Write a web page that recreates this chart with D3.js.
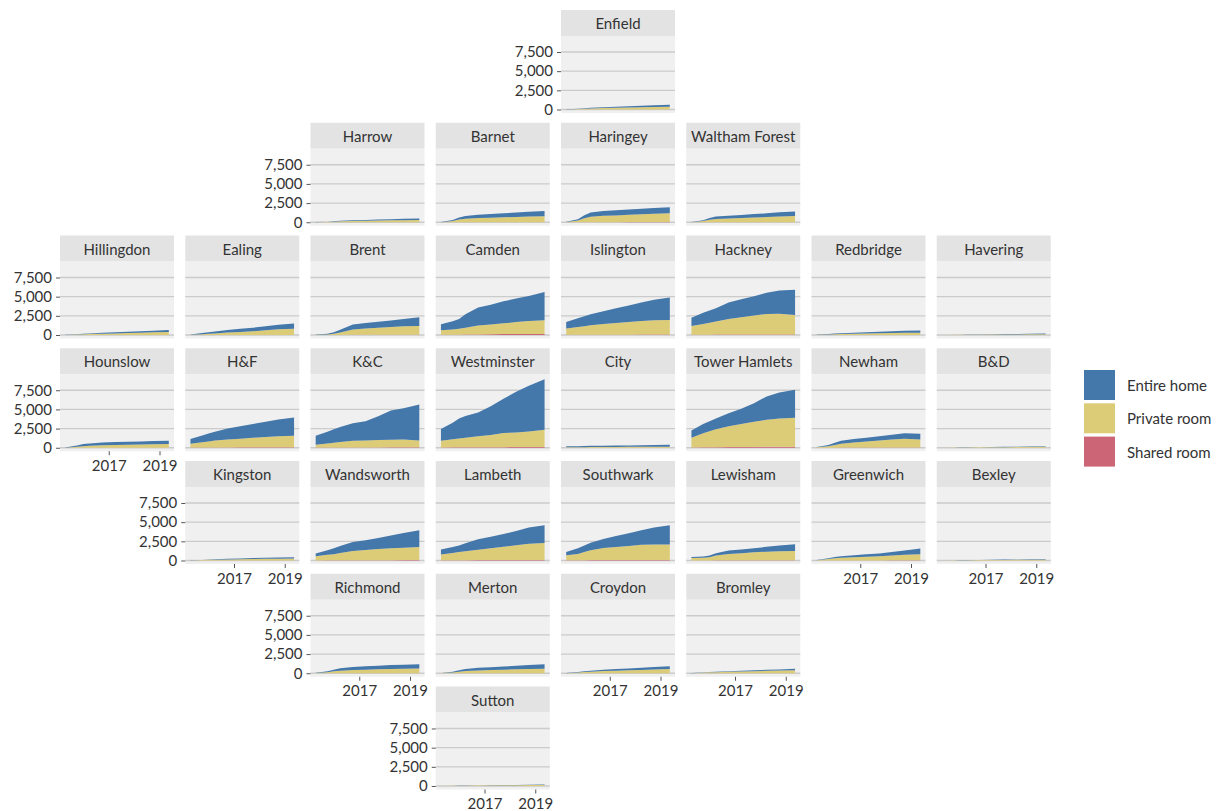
<!DOCTYPE html>
<html><head><meta charset="utf-8">
<script src="https://cdn.jsdelivr.net/npm/d3@7"></script>
<style>
body{margin:0;background:#fff}
text{font-family:Lato,'Open Sans',sans-serif}
</style>
</head><body>
<svg id="chart" width="1227" height="811"></svg>
<script>
// ---------- data ----------
const dates = ["2015-04-15","2015-10-01","2016-01-01","2016-04-01","2016-10-01","2017-04-01","2017-10-01","2018-04-01","2018-10-01","2019-05-15"];

const boroughs = ["Enfield",
  "Harrow","Barnet","Haringey","Waltham Forest",
  "Hillingdon","Ealing","Brent","Camden","Islington","Hackney","Redbridge","Havering",
  "Hounslow","H&F","K&C","Westminster","City","Tower Hamlets","Newham","B&D",
  "Kingston","Wandsworth","Lambeth","Southwark","Lewisham","Greenwich","Bexley",
  "Richmond","Merton","Croydon","Bromley",
  "Sutton"];
const gridCol = [4, 2,3,4,5, 0,1,2,3,4,5,6,7, 0,1,2,3,4,5,6,7, 1,2,3,4,5,6,7, 2,3,4,5, 3];
const gridRow = [0, 1,1,1,1, 2,2,2,2,2,2,2,2, 3,3,3,3,3,3,3,3, 4,4,4,4,4,4,4, 5,5,5,5, 6];

const entireHome = [
  [10,40,70,90,120,140,160,180,210,240],          // Enfield
  [10,30,50,70,90,110,130,150,170,200],           // Harrow
  [15,130,260,350,420,470,520,570,620,670],       // Barnet
  [25,180,400,550,630,670,700,730,760,790],       // Haringey
  [15,100,230,320,360,400,440,480,540,600],       // Waltham Forest
  [10,40,60,80,110,140,160,180,210,250],          // Hillingdon
  [40,140,210,260,340,400,460,510,570,690],       // Ealing
  [30,90,180,360,650,710,770,850,930,1170],       // Brent
  [790,1080,1300,1750,2350,2570,2880,3070,3270,3680], // Camden
  [860,1150,1300,1430,1650,1920,2160,2430,2680,2920], // Islington
  [1080,1450,1600,1750,2150,2320,2500,2750,3020,3300], // Hackney
  [30,60,90,110,140,180,210,230,260,300],         // Redbridge
  [5,10,15,25,35,45,55,65,70,80],                 // Havering
  [15,170,270,310,360,380,390,400,420,440],       // Hounslow
  [610,880,1020,1170,1440,1620,1800,2000,2200,2380], // H&F
  [1170,1540,1750,1950,2300,2500,3100,3810,4090,4690], // K&C
  [1530,2150,2580,2830,3100,3750,4470,5300,5980,6610], // Westminster
  [120,130,145,160,170,180,190,200,220,240],      // City
  [950,1200,1300,1400,1700,2000,2400,3050,3400,3680], // Tower Hamlets
  [50,170,290,380,450,490,550,620,700,740],       // Newham
  [5,10,20,20,30,40,45,55,70,80],                 // B&D
  [10,30,50,70,90,110,125,140,155,170],           // Kingston
  [350,610,770,920,1170,1270,1450,1660,1950,2170], // Wandsworth
  [640,770,850,1030,1380,1500,1650,1850,2120,2310], // Lambeth
  [430,740,850,950,1180,1450,1670,1900,2200,2520], // Southwark
  [130,160,220,300,440,490,520,630,750,870],      // Lewisham
  [30,120,170,210,270,320,370,460,540,740],       // Greenwich
  [5,10,20,20,25,30,40,45,50,60],                 // Bexley
  [30,120,210,320,400,450,480,510,530,550],       // Richmond
  [20,100,180,270,350,380,420,460,510,570],       // Merton
  [15,60,100,130,180,210,240,270,310,350],        // Croydon
  [10,30,50,60,80,100,110,130,150,180],           // Bromley
  [5,10,15,20,25,30,35,40,45,60]                  // Sutton
];

const privateRoom = [
  [10,60,100,140,180,220,260,300,330,360],
  [10,50,80,110,150,180,210,240,270,300],
  [15,170,340,450,530,580,630,680,730,780],
  [25,220,500,700,820,880,950,1020,1090,1160],
  [15,150,320,430,490,550,610,670,740,800],
  [10,60,90,120,170,205,255,295,345,395],
  [40,105,155,200,300,390,480,605,745,805],
  [20,75,160,325,710,820,930,1025,1125,1135],
  [580,680,760,900,1180,1270,1400,1560,1700,1790],
  [820,1020,1120,1240,1410,1540,1650,1770,1870,1910],
  [1130,1410,1560,1700,2040,2270,2480,2680,2710,2530],
  [20,60,90,120,155,185,215,245,275,295],
  [5,20,30,35,45,55,65,75,90,100],
  [15,125,200,240,310,350,380,410,440,470],
  [500,690,800,890,1020,1130,1250,1350,1440,1500],
  [370,530,620,720,860,910,960,990,1010,910],
  [860,1050,1160,1260,1430,1570,1850,1910,2030,2240],
  [60,70,75,80,90,100,110,120,130,140],
  [1260,1840,2080,2320,2700,2990,3290,3530,3680,3790],
  [50,170,350,500,670,800,910,1040,1140,1040],
  [5,20,30,40,50,60,75,85,100,120],
  [10,50,80,100,140,160,185,210,235,260],
  [550,720,810,950,1200,1340,1460,1550,1600,1720],
  [760,950,1070,1180,1350,1550,1740,1940,2120,2220],
  [670,830,1060,1300,1560,1680,1810,1970,2020,2000],
  [330,350,420,630,840,940,1050,1120,1170,1220],
  [30,175,270,340,420,470,540,620,740,800],
  [5,20,30,40,55,70,80,95,110,130],
  [20,130,240,330,400,450,500,540,570,600],
  [20,100,200,280,350,400,450,500,540,580],
  [15,90,150,200,270,320,380,430,490,550],
  [10,70,110,140,190,230,270,310,350,400],
  [5,20,35,40,55,70,85,100,115,140]
];

const sharedRoom = [
  [0,0,5,5,5,5,5,5,5,5],
  [0,0,0,5,5,5,5,5,5,5],
  [0,5,10,10,15,15,15,15,15,15],
  [0,5,10,15,15,15,20,20,20,20],
  [0,5,5,10,10,10,10,10,10,10],
  [0,0,0,0,0,5,5,5,5,5],
  [0,5,5,10,10,10,10,15,15,15],
  [0,5,10,15,20,20,20,25,25,25],
  [30,40,40,50,70,110,120,120,130,130],
  [20,30,30,30,40,40,40,50,50,50],
  [30,40,40,50,60,60,70,70,70,70],
  [0,0,0,0,5,5,5,5,5,5],
  [0,0,0,0,0,0,0,0,0,0],
  [0,5,10,10,10,10,10,10,10,10],
  [20,30,30,40,40,50,50,50,60,60],
  [20,30,30,30,40,40,40,50,50,50],
  [40,50,60,60,70,80,80,90,90,100],
  [5,5,5,5,5,5,5,5,5,5],
  [40,60,70,80,100,110,110,120,120,110],
  [0,10,10,20,30,30,40,40,40,40],
  [0,0,0,0,0,0,5,5,5,5],
  [0,0,5,5,5,5,5,5,5,5],
  [10,20,20,30,30,40,40,40,50,50],
  [20,30,30,40,50,50,60,60,60,60],
  [20,30,40,50,60,70,70,80,80,80],
  [10,10,10,20,20,20,30,30,30,30],
  [0,5,10,10,10,10,10,20,20,20],
  [0,0,0,0,0,0,0,0,0,0],
  [0,5,10,10,10,10,10,10,10,10],
  [0,5,5,10,10,10,10,10,10,10],
  [0,5,5,5,10,10,10,10,10,10],
  [0,0,5,5,5,5,5,5,5,5],
  [0,0,0,0,0,0,0,0,0,0]
];

const seriesNames = ["Entire home","Private room","Shared room"];
const seriesColors = ["#4477AA","#DDCC77","#CC6677"];
const yTickValues = [0,2500,5000,7500];
const xTickLabels = ["2017","2019"];

// ---------- layout ----------
const svg = d3.select("#chart");
const colX0 = 60, colStep = 125.25, panelW = 114;
const rowZero0 = 109.5, rowStep = 112.75, panelH = 77, stripH = 26;
const yMax = 9130;

const parse = d3.timeParse("%Y-%m-%d");
const dateObjs = dates.map(parse);
const span = dateObjs[dateObjs.length-1] - dateObjs[0];
const x = d3.scaleTime()
  .domain([new Date(+dateObjs[0] - 0.05*span), new Date(+dateObjs[dateObjs.length-1] + 0.05*span)])
  .range([0, panelW]);
const y = d3.scaleLinear().domain([-0.05*yMax, 1.05*yMax]).range([panelH, 0]);

const occupied = new Set(boroughs.map((b,i)=>gridCol[i]+","+gridRow[i]));
const keys = ["shared","private","entire"];
const keyColor = {entire: seriesColors[0], private: seriesColors[1], shared: seriesColors[2]};
const stack = d3.stack().keys(keys);
const area = d3.area().x(d=>x(d.data.date)).y0(d=>y(d[0])).y1(d=>y(d[1]));

boroughs.forEach((name,i)=>{
  const c = gridCol[i], r = gridRow[i];
  const left = colX0 + c*colStep;
  const zeroY = rowZero0 + r*rowStep;
  const top = zeroY - y(0);
  const g = svg.append("g").attr("transform",`translate(${left},${top})`);

  // strip
  g.append("rect").attr("x",0).attr("y",-stripH).attr("width",panelW).attr("height",stripH).attr("fill","#e3e3e3");
  g.append("text").attr("x",panelW/2).attr("y",-stripH/2).attr("text-anchor","middle")
    .attr("dominant-baseline","central").attr("font-size",15).attr("fill","#333").text(name);

  // panel
  g.append("rect").attr("width",panelW).attr("height",panelH).attr("fill","#f0f0f0");
  g.selectAll("line.grid").data(yTickValues).enter().append("line").attr("class","grid")
    .attr("x1",0).attr("x2",panelW).attr("y1",d=>y(d)).attr("y2",d=>y(d))
    .attr("stroke","#cbcbcb").attr("stroke-width",1.3);

  const rows = dateObjs.map((d,j)=>({date:d, shared:sharedRoom[i][j], private:privateRoom[i][j], entire:entireHome[i][j]}));
  const layers = stack(rows);
  g.selectAll("path.area").data(layers).enter().append("path").attr("class","area")
    .attr("d",area).attr("fill",d=>keyColor[d.key]);

  // y axis
  if(!occupied.has((c-1)+","+r)){
    const ax = g.append("g").call(d3.axisLeft(y).tickValues(yTickValues).tickSize(4).tickPadding(4).tickFormat(d3.format(",")));
    ax.select(".domain").remove();
    ax.selectAll("line").attr("stroke","#555");
    ax.selectAll("text").attr("font-size",15).attr("fill","#333").style("font-family","Lato,'Open Sans',sans-serif");
  }
  // x axis
  if(!occupied.has(c+","+(r+1))){
    const tv = xTickLabels.map(s=>d3.timeParse("%Y")(s));
    const ax = g.append("g").attr("transform",`translate(0,${panelH})`)
      .call(d3.axisBottom(x).tickValues(tv).tickSize(4).tickPadding(5).tickFormat(d3.timeFormat("%Y")));
    ax.select(".domain").remove();
    ax.selectAll("line").attr("stroke","#555");
    ax.selectAll("text").attr("font-size",15).attr("fill","#333").style("font-family","Lato,'Open Sans',sans-serif");
  }
});

// legend
const lg = svg.append("g").attr("transform","translate(1084,370)");
seriesNames.forEach((s,k)=>{
  lg.append("rect").attr("x",0).attr("y",k*33.3).attr("width",31).attr("height",30).attr("fill",seriesColors[k]);
  lg.append("text").attr("x",43).attr("y",k*33.3+15).attr("dominant-baseline","central")
    .attr("font-size",15).attr("fill","#333").text(s);
});
</script>
</body></html>
